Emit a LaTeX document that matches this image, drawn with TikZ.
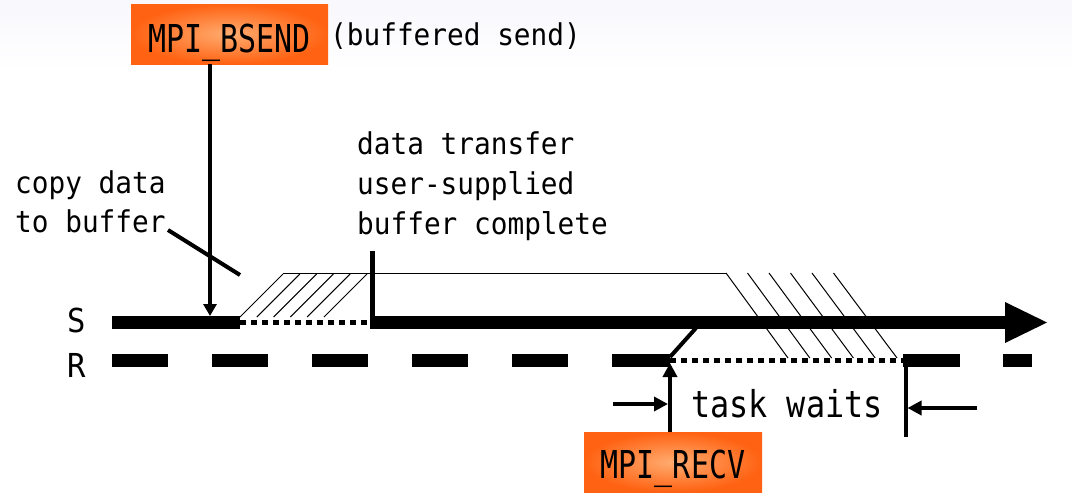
\documentclass[tikz,border=0pt]{standalone}
\usepackage{fontspec}
\usepackage{graphicx}
\newfontfamily\gm{DejaVu Sans Mono}
\usetikzlibrary{arrows.meta}
\newcommand{\gtext}[3]{\scalebox{#2}[1]{\gm\fontsize{#1}{#1}\selectfont #3}}
\definecolor{orangeout}{RGB}{255,98,18}
\definecolor{orangein}{RGB}{255,172,112}
\definecolor{bgtint}{RGB}{248,248,253}
\tikzset{
  label/.style={anchor=base west, inner sep=0pt, text=black},
  callbox/.style={inner sep=0pt, minimum height=60pt, shading=radial, inner color=orangein, outer color=orangeout},
  thickline/.style={line width=13pt, line cap=butt},
  dotline/.style={line width=5pt, dash pattern=on 6pt off 5pt},
  pointer/.style={line width=4pt},
  hatch/.style={line width=1pt},
  tip/.style={-{Triangle[width=14pt,length=14pt]}}
}
\begin{document}
\begin{tikzpicture}[x=1pt,y=-1pt]
\useasboundingbox (0,0) rectangle (1072,498);
\fill[top color=bgtint, bottom color=white] (0,0) rectangle (1072,70);

% coordinates
\coordinate (s0) at (112,322.5);
\coordinate (s1) at (240,322.5);
\coordinate (s2) at (370,322.5);
\coordinate (s3) at (1006,322.5);

% hatches left
\foreach \k in {0,...,5}{
  \draw[hatch] (240+16.8*\k,317) -- (283+16.8*\k,274);
}
% hatches right
\foreach \k in {0,...,5}{
  \draw[hatch] (726+21.5*\k,273) -- (788+21.8*\k,358);
}
% thin top line of buffer
\coordinate (b0) at (283,273.5);
\coordinate (b1) at (726,273.5);
\draw[line width=1.5pt] (b0) -- (b1);

% S line
\draw[thickline] (s0) -- (s1);
\draw[dotline] (s1) -- (s2);
\draw[thickline] (s2) -- (s3);
\fill (1005,302) -- (1047,322.5) -- (1005,343) -- cycle;
% completion marker
\coordinate (m0) at (372,251);
\coordinate (m1) at (372,322);
\draw[line width=5pt] (m0) -- (m1);

% R line
\foreach \a/\b in {112/168,212/268,312/368,412/468,512/568,612/670,903/960,1003/1032}{
  \draw[thickline] (\a,360) -- (\b,360);
}
\coordinate (r1) at (670,360.5);
\coordinate (r2) at (903,360.5);
\draw[dotline] (r1) -- (r2);

% boxes
\node[callbox, minimum width=197pt] (bsend) at (229.5,34) {};
\node[label, anchor=base] at (229.5,52) {\gtext{38.4}{0.78}{MPI\_BSEND}};
\node[callbox, minimum width=178pt] (recv) at (673,462) {};
\node[label, anchor=base] at (673,478) {\gtext{38.4}{0.78}{MPI\_RECV}};

% labels
\node[label] at (330,45) {\gtext{30}{0.925}{(buffered send)}};
\node[label] at (15,193) {\gtext{30}{0.925}{copy data}};
\node[label] at (15,232) {\gtext{30}{0.925}{to buffer}};
\node[label] at (357,154) {\gtext{30}{0.925}{data transfer}};
\node[label] at (357,194) {\gtext{30}{0.925}{user-supplied}};
\node[label] at (357,234) {\gtext{30}{0.925}{buffer complete}};
\node[label] at (67,332) {\gtext{33}{0.925}{S}};
\node[label] at (67,377) {\gtext{33}{0.925}{R}};
\node[label] at (691,417) {\gtext{37}{0.86}{task waits}};

% BSEND arrow
\coordinate (bs1) at (210,316);
\draw[pointer, -{Triangle[width=13pt,length=12pt]}] (bsend.south -| bs1) -- (bs1);
% copy pointer
\coordinate (c0) at (168,230);
\coordinate (c1) at (240,275);
\draw[pointer] (c0) -- (c1);

% RECV arrow
\coordinate (rv1) at (670,363);
\draw[pointer, -{Triangle[width=14pt,length=14pt]}] (recv.north -| rv1) -- (rv1);
\coordinate (sl0) at (670,357);
\coordinate (sl1) at (696,328);
\draw[pointer] (sl0) -- (sl1);

% task waits arrows
\coordinate (w0) at (905.5,354);
\coordinate (w1) at (905.5,437);
\draw[pointer] (w0) -- (w1);
\coordinate (la0) at (613,404);
\coordinate (la1) at (668,404);
\draw[pointer, tip] (la0) -- (la1);
\coordinate (ra0) at (977,408);
\coordinate (ra1) at (907.5,408);
\draw[pointer, tip] (ra0) -- (ra1);
\end{tikzpicture}
\end{document}
